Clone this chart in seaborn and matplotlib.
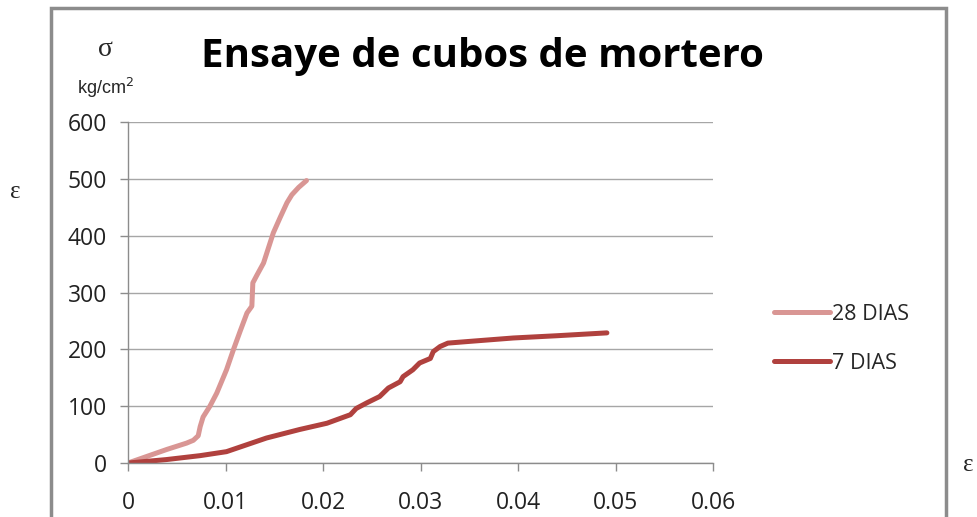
import matplotlib.pyplot as plt
import numpy as np
import pandas as pd
import seaborn as sns
from matplotlib.patches import Rectangle

# strain / stress readings, 28 days
eps_28 = [0.0, 0.002, 0.004, 0.0060, 0.0067, 0.0072, 0.0074, 0.0077, 0.0084, 0.0091,
          0.0101, 0.0108, 0.0115, 0.0122, 0.0127, 0.0128, 0.0132, 0.0139, 0.0149,
          0.0156, 0.0163, 0.0168, 0.0175, 0.0183]
sig_28 = [0, 12, 24, 35, 40, 48, 64, 81, 100, 123,
          164, 199, 232, 264, 276, 317, 330, 352, 405,
          432, 458, 472, 485, 497]

# strain / stress readings, 7 days
eps_7 = [0.0, 0.0039, 0.0074, 0.0101, 0.0142, 0.0176, 0.0204, 0.0228, 0.0234,
         0.0245, 0.0258, 0.0267, 0.0279, 0.0282, 0.0292, 0.0299, 0.0310, 0.0313,
         0.0320, 0.0328, 0.0350, 0.0395, 0.0440, 0.0491]
sig_7 = [0, 6, 13, 20, 44, 59, 70, 85, 96,
         106, 117, 132, 143, 152, 164, 176, 184, 196,
         205, 211, 214, 220, 224, 229]

SERIES = ["28 DIAS", "7 DIAS"]
COLORS = {"28 DIAS": "#d99694", "7 DIAS": "#b0413e"}

df = pd.concat([
    pd.DataFrame({"eps": eps_28, "sigma": sig_28, "serie": "28 DIAS"}),
    pd.DataFrame({"eps": eps_7, "sigma": sig_7, "serie": "7 DIAS"}),
], ignore_index=True)

sns.set_theme(style="white")
plt.rcParams["font.family"] = ["Open Sans", "DejaVu Sans"]

fig = plt.figure(figsize=(9.77, 5.17), dpi=100)
ax = fig.add_axes([0.131, 0.1044, 0.599, 0.6596])

# outer chart frame
fig.patches.append(Rectangle((0.052, -0.1), 0.916, 1.0845, transform=fig.transFigure,
                             fill=False, edgecolor="#8c8c8c", linewidth=2.5))

sns.lineplot(data=df, x="eps", y="sigma", hue="serie", hue_order=SERIES,
             palette=COLORS, sort=False, estimator=None, linewidth=3.6, ax=ax)
for ln in ax.lines:
    ln.set_solid_capstyle("round")

ax.set_xlim(0, 0.06)
ax.set_ylim(0, 600)
ax.set_xticks(np.arange(0, 0.061, 0.01))
ax.set_xticklabels(["0", "0.01", "0.02", "0.03", "0.04", "0.05", "0.06"])
ax.set_yticks(range(0, 601, 100))
ax.yaxis.grid(True, color="#a6a6a6", linewidth=1)
ax.xaxis.grid(False)
ax.tick_params(axis="both", which="major", length=6, width=1, color="#8c8c8c",
               direction="out", labelsize=16.5, labelcolor="#222222")
ax.tick_params(axis="x", bottom=True, pad=14)
ax.tick_params(axis="y", left=True, pad=9)
ax.spines[["top", "right"]].set_visible(False)
for s in ["left", "bottom"]:
    ax.spines[s].set_color("#8c8c8c")
    ax.spines[s].set_linewidth(1)
ax.set_xlabel("")
ax.set_ylabel("")

leg = ax.legend(loc="center left", bbox_to_anchor=(1.07, 0.365), frameon=False,
                fontsize=15.5, handlelength=2.6, handletextpad=0.1, labelspacing=1.3)
for h in leg.get_lines():
    h.set_linewidth(3.6)

fig.text(0.494, 0.89, "Ensaye de cubos de mortero", ha="center", va="center",
         fontsize=29, fontweight="bold", color="black")
fig.text(0.108, 0.905, "σ", ha="center", va="center", fontsize=20,
         family=["Liberation Serif", "DejaVu Serif"])
fig.text(0.108, 0.83, "kg/cm$^2$", ha="center", va="center", fontsize=13,
         family=["Liberation Sans", "DejaVu Sans"])
fig.text(0.016, 0.628, "ε", ha="center", va="center", fontsize=18,
         family=["Liberation Serif", "DejaVu Serif"])
fig.text(0.991, 0.1, "ε", ha="center", va="center", fontsize=18,
         family=["Liberation Serif", "DejaVu Serif"])

fig.savefig("out.png", dpi=100)
